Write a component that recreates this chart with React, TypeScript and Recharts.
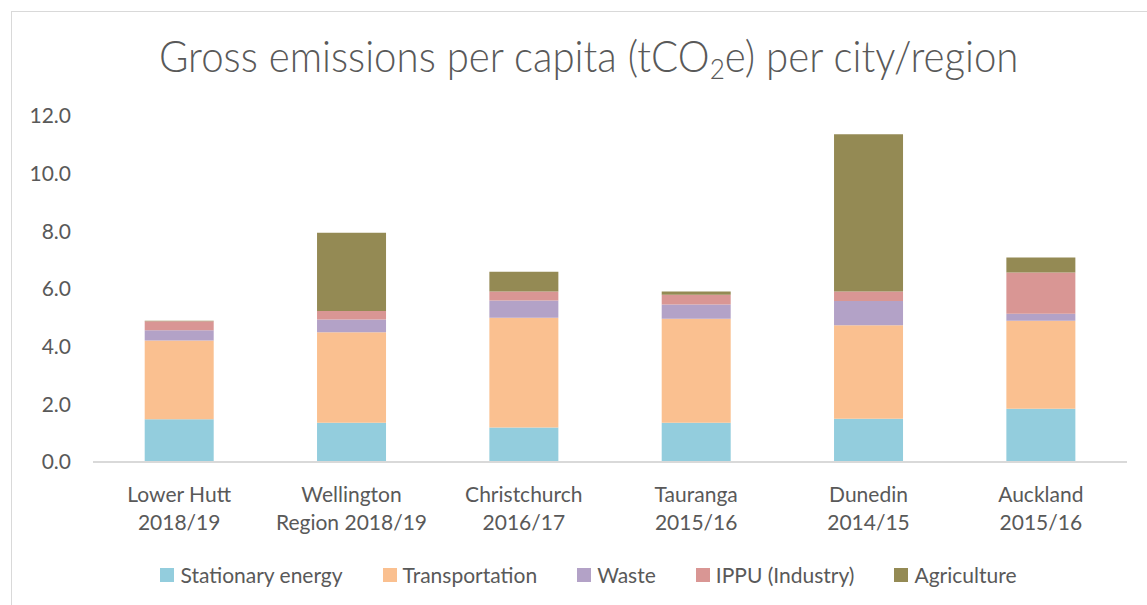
import React from "react";
import { BarChart, Bar, XAxis, YAxis } from "recharts";

const categories = [
  "Lower Hutt\n2018/19",
  "Wellington\nRegion 2018/19",
  "Christchurch\n2016/17",
  "Tauranga\n2015/16",
  "Dunedin\n2014/15",
  "Auckland\n2015/16",
];
const stationaryEnergy = [1.48, 1.36, 1.2, 1.36, 1.5, 1.85];
const transportation = [2.73, 3.14, 3.8, 3.61, 3.24, 3.05];
const waste = [0.36, 0.44, 0.6, 0.49, 0.84, 0.24];
const ippu = [0.31, 0.3, 0.31, 0.34, 0.33, 1.43];
const agriculture = [0.02, 2.71, 0.69, 0.11, 5.46, 0.52];
const yTicks = [0, 2, 4, 6, 8, 10, 12];

const seriesNames = ["Stationary energy", "Transportation", "Waste", "IPPU (Industry)", "Agriculture"];
const seriesKeys = ["stationary", "transport", "waste", "ippu", "agri"];
const seriesColors = ["#93CDDD", "#FAC090", "#B3A2C7", "#D99694", "#948A54"];

const data = categories.map((c, i) => ({
  name: c,
  stationary: stationaryEnergy[i],
  transport: transportation[i],
  waste: waste[i],
  ippu: ippu[i],
  agri: agriculture[i],
}));

const FONT = "Lato, 'Open Sans', sans-serif";
const TEXT = "#595959";

const CategoryTick = (props: any) => {
  const { x, y, payload } = props;
  const lines = String(payload.value).split("\n");
  return (
    <g>
      {lines.map((l: string, i: number) => (
        <text
          key={i}
          x={x}
          y={y + 32 + i * 28}
          textAnchor="middle"
          fill={TEXT}
          fontSize={21}
          fontFamily={FONT}
        >
          {l}
        </text>
      ))}
    </g>
  );
};

const LegendBlock = () => (
  <div
    style={{
      position: "absolute",
      left: 15,
      top: 562,
      width: 1147,
      display: "flex",
      justifyContent: "center",
      alignItems: "center",
      gap: 40,
      fontFamily: FONT,
      fontSize: 21,
      color: TEXT,
      whiteSpace: "nowrap",
    }}
  >
    {seriesNames.map((n, i) => (
      <div key={n} style={{ display: "flex", alignItems: "center" }}>
        <span
          style={{
            display: "inline-block",
            width: 14,
            height: 14,
            background: seriesColors[i],
            marginRight: 6,
          }}
        />
        <span>{n}</span>
      </div>
    ))}
  </div>
);

export default function App() {
  return (
    <div
      style={{
        position: "absolute",
        left: 0,
        top: 0,
        width: 1147,
        height: 605,
        background: "#fff",
        overflow: "hidden",
      }}
    >
      <div
        style={{
          position: "absolute",
          left: 11,
          top: 11,
          width: 1136,
          height: 594,
          borderTop: "1px solid #d9d9d9",
          borderLeft: "1px solid #d9d9d9",
          boxSizing: "border-box",
        }}
      />
      <div
        style={{
          position: "absolute",
          left: 21,
          top: 28,
          width: 1136,
          textAlign: "center",
          fontFamily: FONT,
          fontSize: 43,
          fontWeight: 300,
          color: TEXT,
          whiteSpace: "nowrap",
          lineHeight: "56px",
        }}
      >
        <span style={{ display: "inline-block", transform: "scaleX(0.935)" }}>
          Gross emissions per capita (tCO<sub style={{ fontSize: "0.65em", verticalAlign: "-0.25em" }}>2</sub>e) per city/region
        </span>
      </div>
      <div style={{ position: "absolute", left: 0, top: 0 }}>
        <BarChart
          width={1147}
          height={605}
          data={data}
          margin={{ top: 116, right: 20, bottom: 0, left: 0 }}
          barCategoryGap="30%"
        >
          <XAxis
            dataKey="name"
            tickLine={false}
            axisLine={{ stroke: "#d9d9d9", strokeWidth: 2 }}
            tick={<CategoryTick />}
            interval={0}
            height={143}
          />
          <YAxis
            domain={[0, 12]}
            ticks={yTicks}
            width={93}
            tickLine={false}
            tickSize={0}
            tickMargin={22}
            axisLine={false}
            interval={0}
            tickFormatter={(v: number) => v.toFixed(1)}
            tick={{ fill: TEXT, fontSize: 21, fontFamily: FONT }}
          />
          {seriesKeys.map((k, i) => (
            <Bar
              key={k}
              dataKey={k}
              name={seriesNames[i]}
              stackId="a"
              fill={seriesColors[i]}
              isAnimationActive={false}
            />
          ))}
        </BarChart>
      </div>
      <LegendBlock />
    </div>
  );
}
